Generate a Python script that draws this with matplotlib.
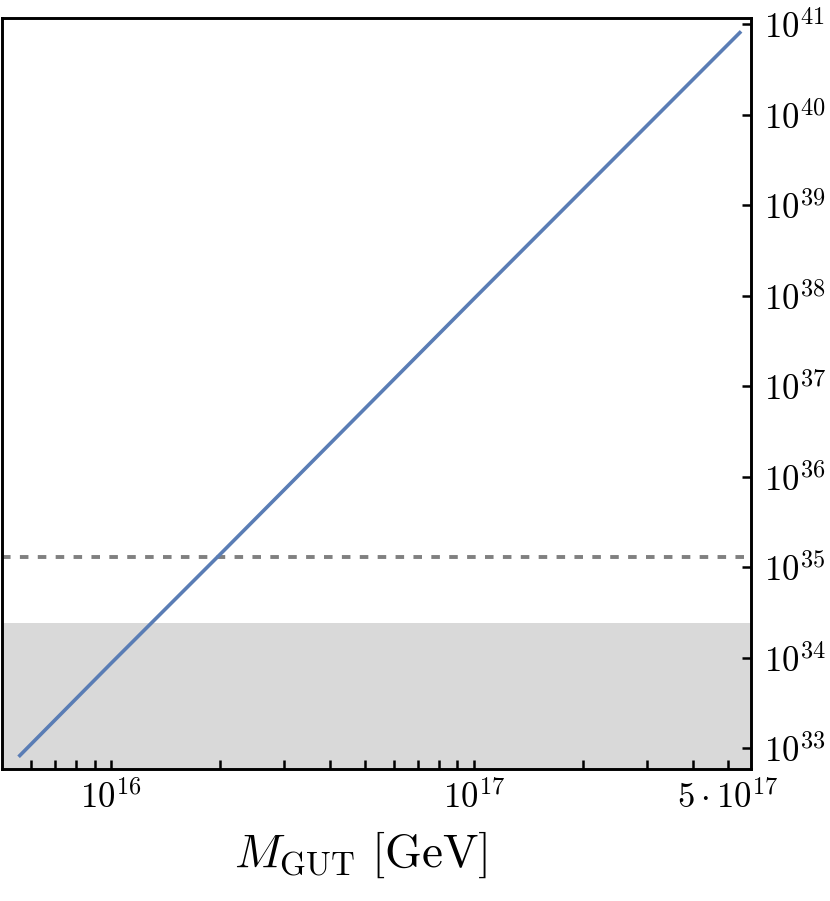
import numpy as np
import matplotlib
matplotlib.use("Agg")
import matplotlib.pyplot as plt
from matplotlib.ticker import FixedLocator, FixedFormatter, NullLocator

plt.rcParams['mathtext.fontset'] = 'cm'
plt.rcParams['font.family'] = ['DejaVu Serif']

# proton lifetime vs GUT scale
m_gut = [5.6e15, 1e16, 2e16, 1e17, 5.4e17]
tau = [8.3e32, 8.7e33, 1.4e35, 9.3e37, 8.1e40]
tau_future = 1.3e35     # dashed line
tau_excluded = 2.4e34   # shaded band top

xlim = (5e15, 5.8e17)
ylim = (10**32.77, 10**41.07)

xmajor = [1e16, 1e17, 5e17]
xmajor_labels = [r'$10^{16}$', r'$10^{17}$', r'$5\cdot10^{17}$']
xminor = [6e15, 7e15, 8e15, 9e15, 2e16, 3e16, 4e16, 5e16, 6e16, 7e16, 8e16, 9e16,
          2e17, 3e17, 4e17]
yticks = [1e33, 1e34, 1e35, 1e36, 1e37, 1e38, 1e39, 1e40, 1e41]
ylabels = [r'$10^{%d}$' % k for k in range(33, 42)]

fig = plt.figure(figsize=(8.3, 9.01), dpi=100)
ax = fig.add_axes([0.0024, 0.1465, 0.9025, 0.8335])

ax.axhspan(ylim[0], tau_excluded, color='#d9d9d9', lw=0, zorder=0)
ax.axhline(tau_future, color='#808080', ls=(0, (2.2, 2.4)), lw=2.8, zorder=1)
ax.plot(m_gut, tau, color='#5a7db5', lw=2.6, zorder=2)

ax.set_xscale('log'); ax.set_yscale('log')
ax.set_xlim(*xlim); ax.set_ylim(*ylim)

ax.xaxis.set_major_locator(FixedLocator(xmajor))
ax.xaxis.set_major_formatter(FixedFormatter(xmajor_labels))
ax.xaxis.set_minor_locator(FixedLocator(xminor))
ax.xaxis.set_minor_formatter(FixedFormatter([]))
ax.yaxis.set_major_locator(FixedLocator(yticks))
ax.yaxis.set_major_formatter(FixedFormatter(ylabels))
ax.yaxis.set_minor_locator(NullLocator())
ax.yaxis.tick_right()

ax.tick_params(axis='both', which='both', direction='in', width=1.8, length=6.5,
               labelsize=25)
ax.tick_params(axis='x', pad=8)
ax.tick_params(axis='y', pad=9)
for s in ax.spines.values():
    s.set_linewidth(2.1)

ax.set_xlabel(r'$M_{\mathrm{GUT}}\ [\mathrm{GeV}]$', fontsize=34, labelpad=10)
ax.xaxis.set_label_coords(0.479, -0.08)

fig.savefig('out.png', dpi=100)
